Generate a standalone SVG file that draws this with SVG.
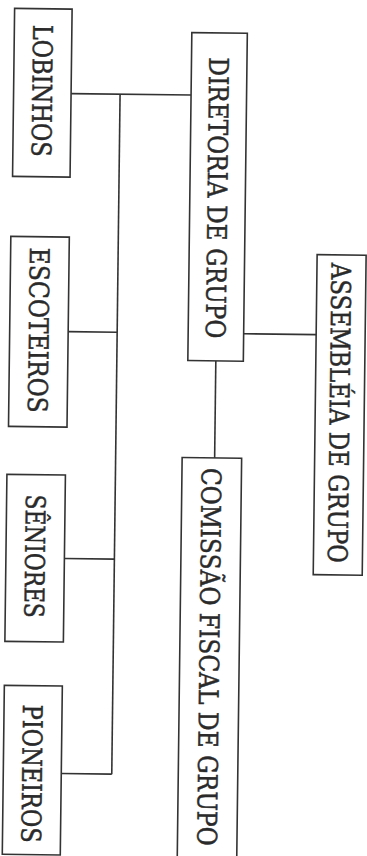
<svg xmlns="http://www.w3.org/2000/svg" width="367" height="856" viewBox="0 0 367 856">
<style>
.box{fill:#fff;stroke:#333;stroke-width:1.6}
.lbl{font-family:"DejaVu Serif","Liberation Serif",serif;font-size:27px;fill:#2a2a2a;stroke:#2a2a2a;stroke-width:0.5;text-anchor:middle}
.conn path{fill:none;stroke:#333;stroke-width:1.6}
</style>
<rect width="367" height="856" fill="#fff"/>
<g transform="rotate(0.7 183 428)">
<g class="conn" id="connectors">
<path d="M67,95 H187"/>
<path d="M116,95 V775"/>
<path d="M67,333 H116"/>
<path d="M66,560 H116"/>
<path d="M65.5,775 H116"/>
<path d="M242.5,333 H315"/>
<path d="M215,360.5 V457.5"/>
</g>
<g id="lobinhos">
<rect class="box" x="9.5" y="10.5" width="57.5" height="168"/>
<text class="lbl" transform="translate(38.25 92.5) rotate(90)" y="10" textLength="132" lengthAdjust="spacingAndGlyphs">LOBINHOS</text>
</g>
<g id="escoteiros">
<rect class="box" x="8.5" y="238.5" width="58.5" height="190"/>
<text class="lbl" transform="translate(37.75 332) rotate(90)" y="10" textLength="165" lengthAdjust="spacingAndGlyphs">ESCOTEIROS</text>
</g>
<g id="seniores">
<rect class="box" x="7.5" y="476.5" width="58.5" height="167"/>
<text class="lbl" transform="translate(36.75 558) rotate(90)" y="10" textLength="123" lengthAdjust="spacingAndGlyphs">SÊNIORES</text>
</g>
<g id="pioneiros">
<rect class="box" x="7.5" y="687.5" width="58" height="169"/>
<text class="lbl" transform="translate(36.5 775.5) rotate(90)" y="10" textLength="138" lengthAdjust="spacingAndGlyphs">PIONEIROS</text>
</g>
<g id="diretoria">
<rect class="box" x="187" y="32.5" width="55.5" height="328"/>
<text class="lbl" transform="translate(214.75 197.5) rotate(90)" y="10" textLength="281" lengthAdjust="spacingAndGlyphs">DIRETORIA DE GRUPO</text>
</g>
<g id="comissao">
<rect class="box" x="182.5" y="457.5" width="59.5" height="412"/>
<text class="lbl" transform="translate(212.25 656.5) rotate(90)" y="10" textLength="378" lengthAdjust="spacingAndGlyphs">COMISSÃO FISCAL DE GRUPO</text>
</g>
<g id="assembleia">
<rect class="box" x="315" y="253" width="49" height="320"/>
<text class="lbl" transform="translate(339.5 411) rotate(90)" y="10" textLength="300" lengthAdjust="spacingAndGlyphs">ASSEMBLÉIA DE GRUPO</text>
</g>
</g>
</svg>
